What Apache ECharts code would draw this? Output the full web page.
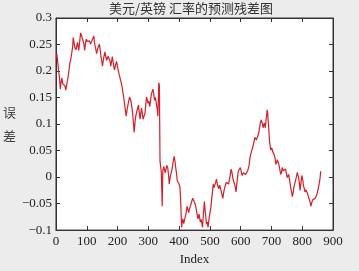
<!DOCTYPE html>
<html>
<head>
<meta charset="utf-8">
<script src="https://cdn.jsdelivr.net/npm/echarts@6/dist/echarts.min.js"></script>
<style>
html,body{margin:0;padding:0;background:#ececec;}
#c{width:359px;height:271px;}
</style>
</head>
<body>
<div id="c"></div>
<script>
const titleText = '美元/英镑 汇率的预测残差图';
const xTickLabels = ['0','100','200','300','400','500','600','700','800','900'];
const yTickLabels = ['\u22120.1','\u22120.05','0','0.05','0.1','0.15','0.2','0.25','0.3'];
const index = [1,3,6,8,11,14,17,19,22,26,29,32,35,38,42,45,48,51,54,56,59,61,65,70,74,77,80,84,88,91,93,96,98,102,106,109,112,116,120,123,125,129,132,136,141,144,146,149,151,155,159,162,165,169,172,175,178,181,183,187,190,194,197,201,204,207,209,212,215,218,222,225,228,231,235,239,242,244,247,249,252,254,257,259,262,264,268,271,273,276,278,281,283,286,289,292,294,297,299,302,305,308,310,313,315,318,320,323,326,329,331,333,334,336,337,338,340,342,344,345,347,350,352,355,357,360,363,366,368,371,373,376,378,381,384,387,389,392,394,397,400,403,405,407,408,410,412,415,419,422,426,429,431,434,436,440,444,448,453,457,461,465,469,472,476,479,482,485,489,492,494,498,503,507,511,513,516,519,521,525,529,532,534,538,542,546,550,553,556,559,561,565,569,572,574,577,580,583,585,588,592,596,599,602,605,609,613,616,619,623,627,630,632,635,638,641,643,646,648,651,653,656,659,662,664,667,669,671,673,675,677,680,683,686,688,689,692,694,696,698,701,704,707,709,712,714,717,719,722,724,727,730,733,735,738,740,743,746,749,751,754,756,760,763,766,768,771,773,776,778,781,784,786,788,791,793,796,799,802,804,807,809,812,815,818,820,823,825,828,831,834,837,839,842,844,847,849,852,855,858,860];
const residual = [0.225,0.232,0.215,0.202,0.190,0.166,0.180,0.187,0.176,0.178,0.172,0.164,0.175,0.184,0.200,0.215,0.222,0.233,0.245,0.263,0.252,0.245,0.240,0.254,0.239,0.255,0.272,0.265,0.263,0.250,0.239,0.252,0.260,0.256,0.254,0.257,0.251,0.256,0.262,0.266,0.254,0.242,0.233,0.243,0.251,0.238,0.227,0.218,0.209,0.225,0.236,0.226,0.220,0.228,0.230,0.220,0.209,0.220,0.227,0.212,0.202,0.212,0.218,0.205,0.196,0.190,0.184,0.178,0.169,0.158,0.142,0.128,0.115,0.127,0.140,0.151,0.148,0.142,0.130,0.120,0.100,0.084,0.105,0.115,0.122,0.127,0.136,0.120,0.109,0.122,0.130,0.118,0.109,0.115,0.120,0.138,0.151,0.145,0.139,0.143,0.133,0.148,0.157,0.162,0.166,0.155,0.145,0.150,0.139,0.128,0.115,0.150,0.178,0.172,0.100,0.030,0.020,0.011,-0.030,-0.055,0.011,0.020,0.018,0.008,0.011,0.022,0.018,0.002,-0.013,0.000,0.005,0.012,0.018,0.030,0.039,0.028,0.018,0.005,-0.007,-0.004,-0.013,-0.020,-0.043,-0.075,-0.095,-0.085,-0.079,-0.088,-0.085,-0.070,-0.055,-0.062,-0.067,-0.060,-0.061,-0.048,-0.040,-0.045,-0.052,-0.065,-0.079,-0.070,-0.085,-0.080,-0.095,-0.070,-0.046,-0.065,-0.089,-0.085,-0.095,-0.075,-0.058,-0.035,-0.013,-0.020,-0.019,-0.010,-0.004,-0.015,-0.022,-0.015,-0.013,-0.030,-0.040,-0.025,-0.016,-0.010,-0.007,-0.012,-0.013,0.000,0.015,0.008,0.000,-0.008,-0.013,-0.020,-0.028,-0.010,0.011,0.012,0.018,0.010,0.003,0.008,0.009,0.005,0.003,0.012,0.021,0.035,0.042,0.048,0.051,0.060,0.066,0.075,0.078,0.070,0.072,0.078,0.084,0.095,0.102,0.108,0.111,0.100,0.093,0.098,0.102,0.093,0.110,0.127,0.120,0.109,0.085,0.066,0.058,0.051,0.055,0.048,0.046,0.042,0.035,0.024,0.028,0.033,0.028,0.024,0.015,0.005,0.010,0.018,0.012,0.009,0.012,0.015,0.006,-0.001,0.002,0.005,-0.010,-0.022,-0.030,-0.037,-0.028,-0.019,-0.012,-0.007,0.000,0.009,0.004,0.000,-0.012,-0.025,-0.010,0.003,-0.006,-0.016,-0.022,-0.028,-0.024,-0.025,-0.032,-0.037,-0.042,-0.046,-0.055,-0.048,-0.043,-0.045,-0.046,-0.040,-0.037,-0.034,-0.031,-0.022,-0.013,-0.002,0.011];

const seriesData = index.map((v, i) => [v, residual[i]]);
const serif = '"Liberation Serif","DejaVu Serif",serif';
const cjk = '"Noto Sans CJK SC",sans-serif';
const axisColor = '#333';
const xLab = v => xTickLabels[Math.round(v / 100)] ?? '';
const yLab = v => yTickLabels[Math.round((v + 0.1) / 0.05)] ?? '';

const chart = echarts.init(document.getElementById('c'), null, {renderer: 'canvas'});
chart.setOption({
  animation: false,
  backgroundColor: '#ececec',
  title: {
    text: titleText, left: 191, top: 0, padding: [1, 0, 0, 0], textAlign: 'center',
    textStyle: {fontFamily: cjk, fontSize: 13, lineHeight: 15, fontWeight: 'normal', color: '#333'}
  },
  grid: {left: 49, right: 26, top: 18, bottom: 33, show: true, backgroundColor: '#fff', borderColor: axisColor, borderWidth: 1},
  xAxis: [{
    type: 'value', min: 0, max: 900, interval: 100,
    name: 'Index', nameLocation: 'middle', nameGap: 18,
    nameTextStyle: {fontFamily: serif, fontSize: 13, color: '#222'},
    axisLine: {show: true, onZero: false, lineStyle: {color: axisColor}},
    axisTick: {inside: true, length: 4, lineStyle: {color: axisColor}},
    axisLabel: {formatter: xLab, fontFamily: serif, fontSize: 13, color: '#222', margin: 5},
    splitLine: {show: false}
  }, {
    type: 'value', position: 'top', min: 0, max: 900, interval: 100,
    axisLine: {show: true, onZero: false, lineStyle: {color: axisColor}},
    axisTick: {inside: true, length: 4, lineStyle: {color: axisColor}},
    axisLabel: {show: false}, splitLine: {show: false}
  }],
  yAxis: [{
    type: 'value', min: -0.1, max: 0.3, interval: 0.05,
    name: '误\n差', nameLocation: 'middle', nameGap: 30, nameRotate: 0,
    nameTextStyle: {fontFamily: cjk, fontSize: 13, color: '#444', lineHeight: 24},
    axisLine: {show: true, onZero: false, lineStyle: {color: axisColor}},
    axisTick: {inside: true, length: 4, lineStyle: {color: axisColor}},
    axisLabel: {formatter: yLab, fontFamily: serif, fontSize: 13, color: '#222', margin: 4},
    splitLine: {show: false}
  }, {
    type: 'value', position: 'right', min: -0.1, max: 0.3, interval: 0.05,
    axisLine: {show: true, onZero: false, lineStyle: {color: axisColor}},
    axisTick: {inside: true, length: 4, lineStyle: {color: axisColor}},
    axisLabel: {show: false}, splitLine: {show: false}
  }],
  series: [{
    type: 'line', data: seriesData, xAxisIndex: 0, yAxisIndex: 0,
    showSymbol: false, symbol: 'none',
    lineStyle: {color: '#d81e28', width: 1.2}
  }]
});
</script>
</body>
</html>
